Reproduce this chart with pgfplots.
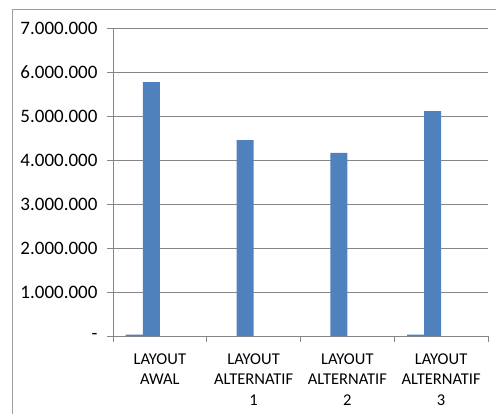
\documentclass[border=0pt]{standalone}
\usepackage{pgfplots}
\pgfplotsset{compat=1.18}
\usepackage{fontspec}
\setmainfont{Carlito}
\definecolor{barblue}{HTML}{4F81BD}
\definecolor{gridgray}{HTML}{868686}
\begin{document}
\begin{tikzpicture}
\useasboundingbox (0,0) rectangle (496bp,414bp);
\fill[white] (0,0) rectangle (496bp,414bp);
\draw[gridgray!80, line width=1bp] (12bp,-20bp) rectangle (520bp,404bp);
\begin{axis}[
  at={(113bp,78bp)}, anchor=south west,
  scale only axis, width=375bp, height=308bp,
  xmin=-0.5, xmax=3.5, ymin=0, ymax=7000000,
  scaled y ticks=false,
  axis x line*=bottom, axis y line*=left,
  axis line style={gridgray, line width=1bp, -},
  every tick/.style={gridgray, line width=1bp},
  tick align=outside,
  xtick={0,1,2,3},
  xticklabels={{LAYOUT\\AWAL},{LAYOUT\\ALTERNATIF\\1},{LAYOUT\\ALTERNATIF\\2},{LAYOUT\\ALTERNATIF\\3}},
  major x tick style={draw=none},
  minor xtick={-0.5,0.5,1.5,2.5,3.5},
  minor tick length=6bp,
  major tick length=6bp,
  xticklabel style={align=center, font=\fontsize{16.5bp}{20.5bp}\selectfont, anchor=north, yshift=-8bp},
  ytick={0,1000000,2000000,3000000,4000000,5000000,6000000,7000000},
  yticklabels={{-\hspace{7bp}},1.000.000,2.000.000,3.000.000,4.000.000,5.000.000,6.000.000,7.000.000},
  yticklabel style={font=\fontsize{19bp}{20.5bp}\selectfont, anchor=east, xshift=-6bp},
  ymajorgrids, major grid style={gridgray, line width=1bp},
  ybar, bar width=17.05bp,
  clip=false,
]
\addplot[fill=barblue, draw=none, bar shift=-25.6bp] coordinates {(0,30000) (3,30000)};
\addplot[fill=barblue, draw=none, bar shift=-8.5bp] coordinates {(0,5770000) (1,4450000) (2,4160000) (3,5110000)};
\end{axis}
\end{tikzpicture}
\end{document}
